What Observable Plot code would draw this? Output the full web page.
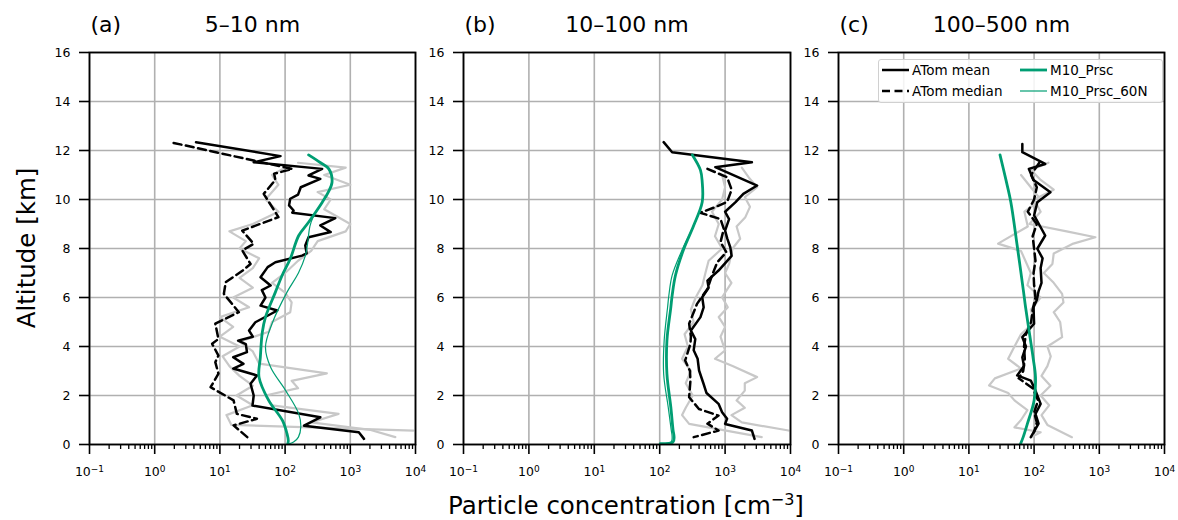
<!DOCTYPE html>
<html><head><meta charset="utf-8">
<script src="https://cdn.jsdelivr.net/npm/d3@7"></script>
<script src="https://cdn.jsdelivr.net/npm/@observablehq/plot@0.6"></script>
<style>
body{margin:0;background:#fff;font-family:"DejaVu Sans",sans-serif;}
#fig{position:relative;width:1178px;height:520px;overflow:hidden;background:#fff;}
#fig > svg{position:absolute;top:0;}
.lab{position:absolute;color:#000;font-size:24.5px;line-height:1;white-space:nowrap;}
#legend{position:absolute;left:878px;top:59px;width:283px;height:42px;border:1px solid #d0d0d0;border-radius:3px;background:rgba(255,255,255,0.85);font-size:13.5px;}
#legend .it{position:absolute;display:flex;align-items:center;height:18px;}
#legend svg{margin-right:3px;}
</style></head><body>
<div id="fig"></div>
<script>
// ---------- data: [altitude km, concentration cm^-3] ----------
const panelLetters = ["(a)", "(b)", "(c)"];
const panelTitles = ["5–10 nm", "10–100 nm", "100–500 nm"];
const xMajorTicks = [0.1, 1, 10, 100, 1000, 10000];
const xTickExponents = ["−1", "0", "1", "2", "3", "4"];
const yTicks = [0, 2, 4, 6, 8, 10, 12, 14, 16];
const seriesNames = ["ATom mean", "ATom median", "M10_Prsc", "M10_Prsc_60N"];

// Panel (a) 5–10 nm
const a_mean = [[12.34,4.3],[11.77,85],[11.52,33],[11.25,370],[10.98,229],[10.84,347],[10.5,174],[10.2,158],[10.03,120],[9.76,115],[9.55,135],[9.46,129],[9.24,589],[8.94,347],[8.67,501],[8.46,229],[8.12,204],[7.8,214],[7.71,182],[7.44,71],[7.24,54],[6.83,42],[6.49,60],[6.3,44],[6.0,50],[5.67,42],[5.47,76],[4.99,35],[4.65,28],[4.4,32],[4.24,19],[4.1,25],[3.77,26],[3.56,16],[3.29,23],[3.1,16],[2.82,37],[2.48,29.5],[2.0,33],[1.59,31.6],[1.11,347],[0.77,195],[0.5,1350],[0.23,1622]];
const a_median = [[12.31,1.95],[11.59,33],[11.25,129],[11.05,68],[10.8,71],[10.23,47],[9.48,71],[9.28,79],[8.73,22],[8.19,33],[7.92,22],[7.37,29.5],[7.1,22.4],[6.63,12.3],[6.15,11.5],[5.4,19.5],[4.93,8.5],[4.31,9.5],[4.11,7.6],[3.63,9.5],[3.36,8.5],[2.89,9.5],[2.34,7.2],[1.8,16.2],[1.25,18.2],[1.05,37],[0.78,16.2],[0.3,26.3]];
const a_m10 = [[11.82,229],[11.5,350],[11.25,468],[10.71,525],[10.3,460],[9.89,372],[9.07,229],[8.53,162],[7.58,120],[6.9,90],[6.22,71],[5.2,50],[4.58,44.7],[3.56,41.7],[2.75,39.8],[1.8,56],[0.98,91],[0.44,107],[0.15,112],[0.03,110]];
const a_m10_60N = [[11.82,229],[11.5,350],[11.25,468],[10.71,525],[10.3,460],[9.89,372],[9.3,270],[8.9,240],[8.12,219],[7.7,204],[7.0,160],[6.22,107],[4.93,63],[3.97,50],[3.15,60],[2.2,102],[1.25,162],[0.71,174],[0.3,160],[0.1,135],[0.02,112]];
const a_gray1 = [[11.5,158],[11.3,851],[11.0,398],[10.6,1000],[10.3,316],[10.0,501],[9.6,398],[9.0,1000],[8.7,851],[8.3,316],[7.9,251],[7.5,158],[7.0,100],[6.6,63],[6.2,100],[5.8,126],[5.4,120],[5.0,63],[4.6,56],[4.2,20],[3.8,32],[3.3,40],[2.9,437],[2.6,126],[2.3,158],[2.0,50],[1.6,63],[1.25,661],[0.9,251],[0.6,1995],[0.3,4898]];
const a_gray2 = [[11.3,100],[11.0,63],[10.6,79],[10.0,50],[9.5,79],[9.0,32],[8.7,14],[8.3,25],[8.0,20],[7.6,40],[7.2,32],[6.8,20],[6.4,32],[6.0,16],[5.6,28],[5.2,10],[4.8,16],[4.4,10],[4.0,20],[3.6,11],[3.2,14],[2.8,20],[2.4,32],[2.0,18],[1.6,32],[1.2,12.6],[0.8,15],[0.57,9300]];

// Panel (b) 10–100 nm
const b_mean = [[12.34,115],[11.93,155],[11.52,2570],[11.32,708],[10.57,3090],[10.23,1900],[9.89,1445],[9.5,1000],[9.2,1150],[8.73,1000],[8.4,1080],[8.05,1200],[7.7,1259],[7.1,794],[6.69,537],[6.4,560],[6.01,447],[5.6,470],[5.2,420],[4.65,300],[4.3,350],[3.85,331],[3.5,380],[3.02,400],[2.48,468],[2.1,520],[1.66,794],[1.32,900],[1.05,1072],[0.84,1000],[0.57,2570],[0.23,2818]];
const b_median = [[11.25,537],[10.91,1072],[10.4,1259],[9.9,1072],[9.69,708],[9.46,417],[9.2,851],[8.8,955],[8.26,851],[7.85,1047],[7.44,759],[6.9,631],[6.35,537],[5.74,372],[4.93,282],[4.4,300],[4.11,295],[3.43,245],[3.0,290],[2.61,295],[1.93,282],[1.45,398],[1.18,794],[0.85,537],[0.57,794],[0.3,331]];
const b_m10 = [[11.82,316],[11.2,420],[10.71,447],[9.9,447],[8.94,331],[7.99,234],[6.9,174],[6.08,155],[5.6,148],[4.24,129],[2.88,129],[1.52,148],[0.6,160],[0.3,166],[0.1,160],[0.03,102]];
const b_m10_60N = [[11.82,316],[11.2,420],[10.71,447],[9.9,447],[8.94,331],[7.99,224],[6.9,155],[6.08,138],[5.6,132],[4.24,117],[2.88,115],[1.52,135],[0.6,150],[0.3,155],[0.1,150],[0.03,102]];
const b_gray1 = [[11.3,1800],[10.9,2300],[10.5,3090],[10.1,2000],[9.7,2400],[9.28,2040],[8.9,1500],[8.4,1700],[8.0,1300],[7.37,1150],[7.0,1000],[6.6,1250],[6.01,900],[5.6,1100],[5.2,800],[4.8,1000],[4.4,850],[3.84,1000],[3.5,700],[3.2,1300],[2.75,3090],[2.5,2000],[2.2,2000],[1.8,1500],[1.5,2000],[1.2,1250],[0.9,1800],[0.57,9333]];
const b_gray2 = [[11.0,900],[10.5,1000],[10.0,900],[9.5,630],[9.0,800],[8.5,700],[8.0,900],[7.5,560],[7.0,500],[6.5,450],[6.0,355],[5.5,300],[5.0,330],[4.5,240],[4.0,270],[3.5,220],[3.0,300],[2.5,250],[2.0,320],[1.5,250],[1.2,220],[0.84,282],[0.3,3630]];

// Panel (c) 100–500 nm
const c_mean = [[12.27,66],[11.93,66],[11.45,148],[11.25,83],[10.8,98],[10.3,178],[9.89,112],[9.35,100],[8.53,148],[7.99,112],[7.6,135],[7.2,126],[6.6,130],[6.25,117],[5.9,110],[5.6,98],[4.93,100],[4.38,66],[4.0,75],[3.56,66],[3.2,70],[2.82,55],[2.61,89],[2.2,105],[1.66,126],[1.25,105],[0.85,117],[0.3,89]];
const c_median = [[11.5,120],[11.0,90],[10.5,110],[10.0,100],[9.5,80],[9.0,110],[8.5,95],[8.0,100],[7.5,105],[7.0,98],[6.5,100],[6.0,105],[5.5,95],[5.0,90],[4.5,75],[4.0,70],[3.5,72],[3.0,68],[2.7,58],[2.3,95],[1.8,115],[1.3,100],[0.9,110],[0.5,100]];
const c_m10 = [[11.82,30],[10.8,37],[9.89,44],[8.12,55],[6.22,69],[5.6,74],[4.35,87],[3.5,97],[2.75,105],[1.8,100],[0.85,79],[0.3,68],[0.03,62]];
const c_m10_60N = [[11.82,30],[10.8,37],[9.89,44],[8.12,55],[6.22,69],[5.6,74],[4.35,87],[3.5,97],[2.75,105],[1.8,100],[0.85,79],[0.3,68],[0.03,62]];
const c_gray1 = [[11.5,166],[11.2,90],[10.8,126],[10.4,200],[10.0,100],[9.5,126],[9.0,85],[8.7,316],[8.46,871],[8.2,400],[7.8,200],[7.37,191],[7.0,141],[6.6,200],[6.15,269],[5.8,282],[5.4,200],[5.0,251],[4.38,269],[4.0,160],[3.6,180],[3.2,160],[2.8,130],[2.4,178],[2.0,126],[1.6,170],[1.2,130],[0.8,160],[0.3,380]];
const c_gray2 = [[11.0,63],[10.5,89],[10.0,126],[9.5,71],[8.9,80],[8.2,28],[7.9,63],[7.0,89],[6.5,79],[6.0,126],[5.5,89],[5.0,100],[4.5,63],[4.0,50],[3.5,40],[3.1,63],[2.7,25],[2.41,20.4],[2.1,40],[1.8,50],[1.4,79],[1.0,63],[0.7,50],[0.5,126],[0.3,89]];

// ---------- drawing ----------
const GREEN = "#009e73";
const GRAY = "#c8c8c8";
const xMinorTicks = [];
for (let e = -1; e < 4; e++) for (let k = 2; k <= 9; k++) xMinorTicks.push(k * Math.pow(10, e));
const fmtX = d => { const j = xMajorTicks.indexOf(d); return j < 0 ? "" : "10^" + xTickExponents[j]; };
const rows = arr => arr.map(([alt, c]) => ({alt, c}));

function panel(i, data, left, width, marginLeft, marginRight) {
  const line = (arr, o) => Plot.line(rows(arr), {x: "c", y: "alt", clip: true, strokeLinejoin: "round", ...o});
  const svg = Plot.plot({
    width, height: 520, marginTop: 52, marginBottom: 76, marginLeft, marginRight,
    x: {type: "log", domain: [0.1, 10000], label: null},
    y: {domain: [0, 16], label: null},
    style: {background: "transparent", overflow: "visible", fontFamily: "DejaVu Sans, sans-serif", color: "black"},
    marks: [
      Plot.gridX(xMajorTicks, {stroke: "#b0b0b0", strokeOpacity: 1, strokeWidth: 1.6}),
      Plot.gridY(yTicks, {stroke: "#b0b0b0", strokeOpacity: 1, strokeWidth: 1.6}),
      line(data.gray1, {stroke: GRAY, strokeWidth: 2.2}),
      line(data.gray2, {stroke: GRAY, strokeWidth: 2.2}),
      line(data.median, {stroke: "black", strokeWidth: 2.5, strokeDasharray: "8,4.5"}),
      line(data.mean, {stroke: "black", strokeWidth: 2.5}),
      line(data.m60, {stroke: GREEN, strokeWidth: 1.2, curve: "catmull-rom"}),
      line(data.m10, {stroke: GREEN, strokeWidth: 2.8, curve: "catmull-rom"}),
      Plot.frame({stroke: "black", strokeWidth: 1.8}),
      Plot.axisX(xMinorTicks, {tickSize: 5, tickFormat: () => "", strokeWidth: 1.3, label: null}),
      Plot.axisX(xMajorTicks, {tickSize: 10, tickFormat: fmtX, strokeWidth: 1.6, fontSize: 12.5, tickPadding: 13, label: null}),
      Plot.axisY(yTicks, {tickSize: 10, strokeWidth: 1.6, fontSize: 12.5, tickPadding: 9, label: null}),
      Plot.text([panelLetters[i]], {text: d => d, frameAnchor: "top-left", textAnchor: "start", lineAnchor: "middle", dx: 1, dy: -28, fontSize: 22}),
      Plot.text([panelTitles[i]], {text: d => d, frameAnchor: "top", lineAnchor: "middle", dy: -28, fontSize: 22})
    ]
  });
  // render "10^e" tick labels with a real superscript
  svg.querySelectorAll("text").forEach(t => {
    const s = t.textContent;
    if (/^10\^/.test(s)) {
      const [base, exp] = s.split("^");
      t.textContent = "";
      const ns = "http://www.w3.org/2000/svg";
      const b = document.createElementNS(ns, "tspan"); b.textContent = base;
      const e = document.createElementNS(ns, "tspan"); e.textContent = exp;
      e.setAttribute("dy", "-0.45em"); e.setAttribute("font-size", "9px");
      t.appendChild(b); t.appendChild(e);
    }
  });
  svg.style.left = left + "px";
  return svg;
}

const fig = document.getElementById("fig");
fig.appendChild(panel(0, {mean: a_mean, median: a_median, m10: a_m10, m60: a_m10_60N, gray1: a_gray1, gray2: a_gray2}, 0, 440, 89, 25));
fig.appendChild(panel(1, {mean: b_mean, median: b_median, m10: b_m10, m60: b_m10_60N, gray1: b_gray1, gray2: b_gray2}, 420, 395, 43, 25));
fig.appendChild(panel(2, {mean: c_mean, median: c_median, m10: c_m10, m60: c_m10_60N, gray1: c_gray1, gray2: c_gray2}, 795, 383, 43, 14));

// axis labels
const yl = document.createElement("div");
yl.className = "lab";
yl.textContent = "Altitude [km]";
yl.style.left = "27px"; yl.style.top = "248px";
yl.style.transform = "translate(-50%,-50%) rotate(-90deg)";
fig.appendChild(yl);
const xl = document.createElement("div");
xl.className = "lab";
xl.innerHTML = "Particle concentration [cm<sup style='font-size:16px;line-height:0'>−3</sup>]";
xl.style.left = "626px"; xl.style.top = "506px";
xl.style.transform = "translate(-50%,-50%)";
fig.appendChild(xl);

// legend
const lg = document.createElement("div");
lg.id = "legend";
const items = [
  {name: seriesNames[0], x: 3, y: 0, stroke: "black", w: 2.5, dash: null},
  {name: seriesNames[1], x: 3, y: 21, stroke: "black", w: 2.5, dash: "8,4.5"},
  {name: seriesNames[2], x: 141, y: 0, stroke: GREEN, w: 2.8, dash: null},
  {name: seriesNames[3], x: 141, y: 21, stroke: GREEN, w: 1.2, dash: null}
];
for (const it of items) {
  const d = document.createElement("div");
  d.className = "it";
  d.style.left = it.x + "px"; d.style.top = (it.y + 1) + "px";
  d.innerHTML = `<svg width="27" height="10"><line x1="0" x2="27" y1="5" y2="5" stroke="${it.stroke}" stroke-width="${it.w}" ${it.dash ? `stroke-dasharray="${it.dash}"` : ""}/></svg><span>${it.name}</span>`;
  lg.appendChild(d);
}
fig.appendChild(lg);
</script>
</body></html>
